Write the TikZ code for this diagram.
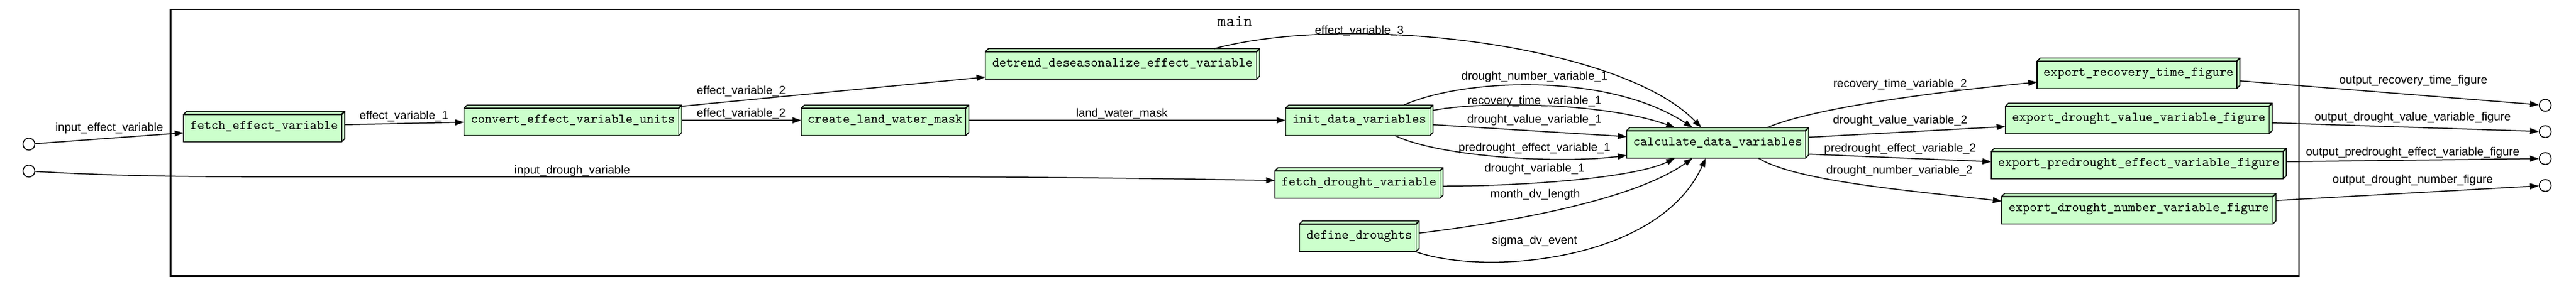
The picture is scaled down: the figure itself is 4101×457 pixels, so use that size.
\documentclass[tikz,border=0pt]{standalone}
\usepackage{fontspec}
\setmainfont{Liberation Sans}
\usetikzlibrary{arrows.meta,calc,backgrounds}
\definecolor{boxg}{HTML}{CCFFCC}
\tikzset{
  bx/.style={draw=none, inner sep=0pt, minimum height=24pt, font=\ttfamily\fontsize{10.67pt}{12pt}\selectfont},
  face/.style={draw=black, line width=0.8pt, fill=boxg, line join=miter},
  lbl/.style={font=\fontsize{9.3pt}{11pt}\selectfont, inner sep=0pt},
  edge/.style={line width=0.75pt, -{Triangle[length=7pt,width=4.7pt]}},
  port/.style={circle, draw, line width=0.75pt, minimum size=9.5pt, inner sep=0pt},
  titlef/.style={font=\ttfamily\fontsize{13.5pt}{15pt}\selectfont, inner sep=0pt},
}
\newcommand{\bthree}[5]{%
  \node[bx, minimum width=#4*0.5pt] (#1) at (#2,#3) {#5};
  \begin{scope}[on background layer]
    \path[face] ([yshift=-2.5pt]#1.north west) -- ([xshift=2.5pt]#1.north west) -- (#1.north east) -- ([yshift=2.5pt]#1.south east) -- ([xshift=-2.5pt]#1.south east) -- (#1.south west) -- cycle;
    \draw[line width=1.1pt] ([yshift=-2.5pt]#1.north west) -- ([shift={(-2.5pt,-2.5pt)}]#1.north east) -- (#1.north east);
    \draw[line width=0.8pt] ([shift={(-2.5pt,-2.5pt)}]#1.north east) -- ([xshift=-2.5pt]#1.south east);
  \end{scope}
}
\begin{document}
\begin{tikzpicture}[x=0.5pt,y=-0.5pt]
\useasboundingbox (0,0) rectangle (4101,457);
% cluster
\draw[line width=1.3pt] (271.5,15) rectangle (3660,440.5);
\node[titlef] (title) at (1966,34) {main};
% ports
\node[port] (in1) at (46,230) {};
\node[port] (in2) at (46,273) {};
\node[port] (out1) at (4052,168) {};
\node[port] (out2) at (4052,210) {};
\node[port] (out3) at (4052,253) {};
\node[port] (out4) at (4052,296) {};
% boxes
\bthree{fev}{420.5}{202}{256}{fetch\_effect\_variable}
\bthree{conv}{912}{192}{346}{convert\_effect\_variable\_units}
\bthree{clwm}{1409}{192}{266}{create\_land\_water\_mask}
\bthree{det}{1787}{102}{436}{detrend\_deseasonalize\_effect\_variable}
\bthree{init}{2164}{192}{234}{init\_data\_variables}
\bthree{fdv}{2163.5}{292}{267}{fetch\_drought\_variable}
\bthree{def}{2164}{377}{190}{define\_droughts}
\bthree{calc}{2734.5}{228}{289}{calculate\_data\_variables}
\bthree{erec}{3404.4}{117}{322}{export\_recovery\_time\_figure}
\bthree{edv}{3405}{189}{424}{export\_drought\_value\_variable\_figure}
\bthree{epre}{3405}{261}{469}{export\_predrought\_effect\_variable\_figure}
\bthree{edn}{3405}{333}{436}{export\_drought\_number\_variable\_figure}
% edges
\draw[edge] (in1) -- ($(fev.west)+(0,10)$);
\draw[edge] ($(fev.east)+(0,-3)$) -- ($(conv.west)+(0,3)$);
\draw[edge] ($(conv.north east)+(-1,2)$) -- ($(det.west)+(0,21)$);
\draw[edge] (conv.east) -- (clwm.west);
\draw[edge] (clwm.east) -- (init.west);
\draw[edge] (in2) .. controls (150,279) and (250,282) .. (400,282) -- (1450,282) .. controls (1750,283) and (1900,286) .. ($(fdv.west)+(0,-4)$);
\draw[edge] ($(det.north)+(146,0)$) .. controls (2150,20) and (2580,70) .. ($(calc.north)+(-26,0)$);
\draw[edge] ($(init.north)+(71,0)$) .. controls (2330,125) and (2560,115) .. ($(calc.north)+(-40,0)$);
\draw[edge] ($(init.east)+(0,-16)$) .. controls (2370,160) and (2560,165) .. ($(calc.north)+(-68,0)$);
\draw[edge] ($(init.east)+(0,7)$) -- ($(calc.west)+(0,-10)$);
\draw[edge] ($(init.south)+(57,0)$) .. controls (2290,250) and (2480,262) .. ($(calc.west)+(0,20)$);
\draw[edge] ($(fdv.east)+(0,5)$) .. controls (2420,297) and (2600,285) .. ($(calc.south)+(-68,0)$);
\draw[edge] ($(def.east)+(0,-5)$) .. controls (2400,355) and (2600,320) .. ($(calc.south)+(-40,0)$);
\draw[edge] ($(def.south east)+(-6.5,0)$) .. controls (2360,440) and (2640,420) .. ($(calc.south)+(-19,0)$);
\draw[edge] ($(calc.north)+(79,0)$) .. controls (2880,175) and (3050,150) .. ($(erec.west)+(0,14)$);
\draw[edge] ($(calc.east)+(0,-9)$) -- ($(edv.west)+(0,13)$);
\draw[edge] ($(calc.east)+(0,18)$) -- ($(epre.west)+(0,-3)$);
\draw[edge] ($(calc.south)+(65,0)$) .. controls (2860,290) and (3050,305) .. ($(edn.west)+(0,-12)$);
\draw[edge] ($(erec.east)+(0,12)$) -- (out1);
\draw[edge] ($(edv.east)+(0,7)$) -- (out2);
\draw[edge] ($(epre.east)+(0,-3)$) -- (out3);
\draw[edge] ($(edn.east)+(0,-13)$) -- (out4);
% labels
\node[lbl] (l1) at (174,205) {input\_effect\_variable};
\node[lbl] (l2) at (643,186) {effect\_variable\_1};
\node[lbl] (l3) at (1180,146) {effect\_variable\_2};
\node[lbl] (l4) at (1180,182) {effect\_variable\_2};
\node[lbl] (l5) at (1786,182) {land\_water\_mask};
\node[lbl] (l6) at (911,273) {input\_drough\_variable};
\node[lbl] (l7) at (2164,50) {effect\_variable\_3};
\node[lbl] (l8) at (2443,123) {drought\_number\_variable\_1};
\node[lbl] (l9) at (2443,162) {recovery\_time\_variable\_1};
\node[lbl] (l10) at (2443,192) {drought\_value\_variable\_1};
\node[lbl] (l11) at (2443,237) {predrought\_effect\_variable\_1};
\node[lbl] (l12) at (2443,270) {drought\_variable\_1};
\node[lbl] (l13) at (2444,311) {month\_dv\_length};
\node[lbl] (l14) at (2443,385) {sigma\_dv\_event};
\node[lbl] (l15) at (3025,135) {recovery\_time\_variable\_2};
\node[lbl] (l16) at (3025,193) {drought\_value\_variable\_2};
\node[lbl] (l17) at (3025,238) {predrought\_effect\_variable\_2};
\node[lbl] (l18) at (3024,273) {drought\_number\_variable\_2};
\node[lbl] (l19) at (3842,129) {output\_recovery\_time\_figure};
\node[lbl] (l20) at (3841,188) {output\_drought\_value\_variable\_figure};
\node[lbl] (l21) at (3841,244) {output\_predrought\_effect\_variable\_figure};
\node[lbl] (l22) at (3841,288) {output\_drought\_number\_figure};
\end{tikzpicture}
\end{document}
